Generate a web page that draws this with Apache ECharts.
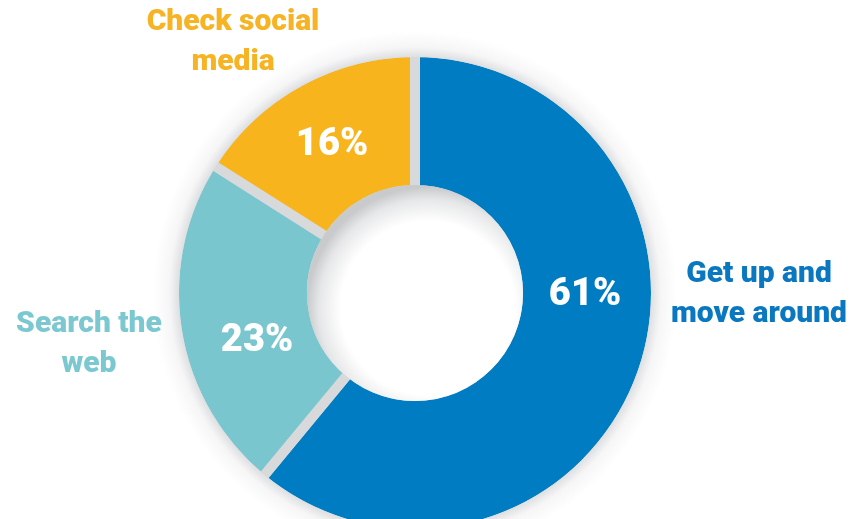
<!DOCTYPE html>
<html>
<head>
<meta charset="utf-8">
<style>
  html, body { margin: 0; padding: 0; background: #ffffff; }
  #chart { width: 853px; height: 519px; }
</style>
<script src="https://cdn.jsdelivr.net/npm/echarts@6/dist/echarts.min.js"></script>
</head>
<body>
<div id="chart"></div>
<script>
const categories = ['Get up and\nmove around', 'Search the\nweb', 'Check social\nmedia'];
const values = [61, 23, 16];
const percentLabels = ['61%', '23%', '16%'];
const colors = ['#007cc3', '#7ac6cf', '#f7b41d'];
const textColors = ['#0a78c1', '#7cc8d1', '#f6b323'];

const chart = echarts.init(document.getElementById('chart'), null, { renderer: 'canvas' });

const center = [415, 293];
const innerR = 108;
const outerR = 236;

// label placements (text only)
const pctPos = [[585, 295], [257, 341], [332, 145]];
const catPos = [[759, 294], [89, 344], [233, 42]];

const graphics = [];
values.forEach((v, i) => {
  graphics.push({
    type: 'text', z: 100,
    x: pctPos[i][0], y: pctPos[i][1],
    style: {
      text: percentLabels[i], fill: '#ffffff',
      font: '900 38px Roboto, "DejaVu Sans", sans-serif',
      align: 'center', verticalAlign: 'middle'
    }
  });
  graphics.push({
    type: 'text', z: 100,
    x: catPos[i][0], y: catPos[i][1],
    style: {
      text: categories[i], fill: textColors[i],
      font: '900 30px Roboto, "DejaVu Sans", sans-serif',
      lineHeight: 40,
      align: 'center', verticalAlign: 'middle'
    }
  });
});

chart.setOption({
  animation: false,
  backgroundColor: '#ffffff',
  graphic: graphics,
  series: [
    {
      name: 'main',
      type: 'pie',
      z: 2,
      center: center,
      radius: [innerR - 5, outerR + 5],
      startAngle: 90,
      clockwise: true,
      silent: true,
      label: { show: false },
      labelLine: { show: false },
      itemStyle: {
        borderColor: '#d8d9db',
        borderWidth: 10
      },
      data: values.map((v, i) => ({ name: categories[i], value: v, itemStyle: { color: colors[i] } }))
    },
    {
      name: 'outerShade',
      type: 'pie',
      z: 3,
      center: center,
      radius: [outerR, outerR + 26],
      silent: true,
      label: { show: false },
      labelLine: { show: false },
      itemStyle: {
        color: {
          type: 'radial', x: 0.5, y: 0.5, r: 0.5,
          colorStops: [
            { offset: 0, color: '#ffffff' },
            { offset: outerR / (outerR + 26), color: '#dedfe1' },
            { offset: (outerR + 10) / (outerR + 26), color: '#f6f6f7' },
            { offset: 1, color: '#ffffff' }
          ]
        }
      },
      data: [{ value: 1, name: 'shade' }]
    },
    {
      name: 'hole',
      type: 'pie',
      z: 3,
      center: center,
      radius: [0, innerR],
      silent: true,
      label: { show: false },
      labelLine: { show: false },
      itemStyle: {
        color: {
          type: 'radial', x: 0.56, y: 0.57, r: 0.56,
          colorStops: [
            { offset: 0, color: '#ffffff' },
            { offset: 0.72, color: '#ffffff' },
            { offset: 0.9, color: '#e6e7e8' },
            { offset: 1, color: '#c9cacc' }
          ]
        }
      },
      data: [{ value: 1, name: 'hole' }]
    }
  ]
});
</script>
</body>
</html>
